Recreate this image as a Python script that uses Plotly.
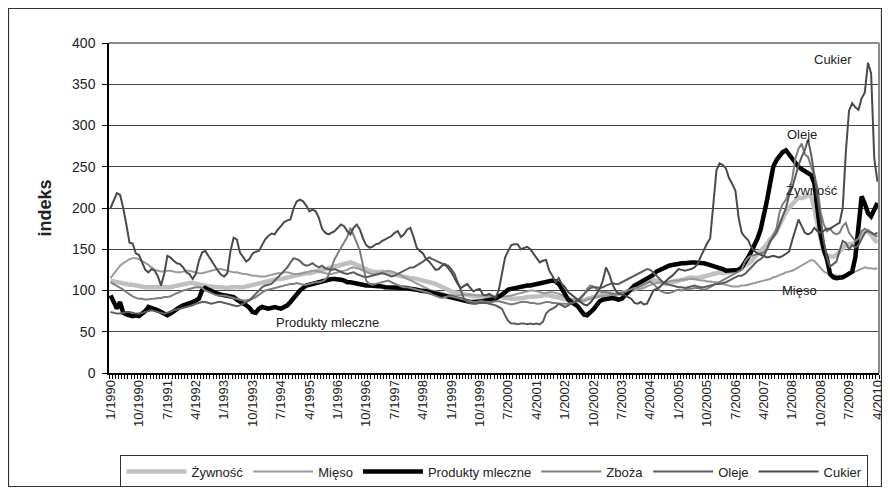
import plotly.graph_objects as go

# monthly categories 1/1990 .. 4/2010
months = [f"{m}/{y}" for y in range(1990, 2011) for m in range(1, 13)][:244]
month_index = list(range(len(months)))

tick_labels = ["1/1990", "10/1990", "7/1991", "4/1992", "1/1993", "10/1993", "7/1994",
               "4/1995", "1/1996", "10/1996", "7/1997", "4/1998", "1/1999", "10/1999",
               "7/2000", "4/2001", "1/2002", "10/2002", "7/2003", "4/2004", "1/2005",
               "10/2005", "7/2006", "4/2007", "1/2008", "10/2008", "7/2009", "4/2010"]

zywnosc = [
    112, 111, 110, 110, 109, 108, 107, 107, 106, 105, 105, 104,
    104, 104, 103, 104, 103, 103, 104, 104, 105, 106, 107, 107,
    108, 109, 109, 108, 108, 107, 106, 105, 105, 104, 104, 104,
    103, 103, 104, 104, 103, 103, 104, 105, 106, 107, 108, 109,
    110, 110, 111, 112, 113, 114, 114, 115, 116, 117, 118, 119,
    120, 120, 121, 121, 122, 122, 123, 124, 125, 126, 127, 128,
    129, 130, 132, 133, 134, 133, 131, 129, 127, 125, 124, 123,
    122, 122, 123, 122, 121, 120, 119, 118, 117, 117, 116, 115,
    115, 114, 114, 113, 112, 111, 110, 108, 106, 104, 102, 100,
    99, 98, 97, 96, 95, 94, 93, 93, 93, 92, 92, 92,
    92, 92, 93, 93, 92, 91, 90, 90, 90, 90, 90, 91,
    92, 92, 93, 93, 93, 94, 95, 94, 93, 92, 91, 91,
    90, 89, 88, 87, 87, 87, 88, 90, 91, 92, 93, 94,
    96, 97, 97, 96, 95, 96, 97, 98, 99, 100, 102, 103,
    105, 108, 110, 112, 113, 112, 110, 109, 108, 109, 110, 111,
    112, 113, 115, 116, 116, 115, 115, 116, 117, 118, 119, 120,
    121, 122, 121, 121, 122, 123, 124, 125, 127, 130, 132, 135,
    140, 145, 148, 152, 156, 162, 166, 172, 180, 188, 195, 200,
    205, 210, 213, 212, 213, 215, 214, 200, 180, 160, 146, 142,
    142, 141, 143, 147, 152, 155, 156, 157, 156, 160, 166, 172,
    172, 168, 162, 158,
]

mieso = [
    115, 120, 125, 130, 133, 136, 138, 139, 139, 138, 136, 134,
    131, 128, 125, 124, 123, 123, 124, 124, 123, 122, 122, 123,
    124, 124, 123, 122, 121, 121, 122, 123, 124, 125, 126, 126,
    125, 124, 123, 122, 122, 121, 120, 120, 119, 118, 118, 117,
    117, 117, 118, 119, 120, 121, 121, 122, 122, 121, 120, 120,
    120, 121, 122, 123, 124, 124, 123, 122, 121, 120, 120, 121,
    122, 123, 124, 125, 127, 128, 127, 126, 124, 122, 121, 120,
    120, 121, 122, 123, 124, 123, 122, 120, 118, 116, 114, 112,
    110, 108, 106, 104, 102, 101, 100, 99, 98, 97, 96, 95,
    95, 94, 94, 94, 95, 95, 95, 95, 94, 94, 94, 94,
    93, 93, 92, 92, 92, 93, 93, 94, 95, 96, 97, 98,
    99, 100, 100, 99, 98, 97, 97, 98, 98, 97, 96, 94,
    92, 91, 90, 89, 88, 88, 88, 89, 90, 91, 92, 93,
    93, 94, 94, 95, 96, 97, 98, 98, 99, 99, 100, 101,
    102, 103, 105, 107, 108, 109, 110, 110, 110, 111, 112, 112,
    112, 113, 113, 114, 114, 114, 113, 112, 112, 111, 111, 110,
    110, 109, 108, 107, 106, 105, 105, 105, 106, 106, 107, 108,
    109, 110, 111, 112, 113, 114, 116, 117, 119, 120, 122, 123,
    124, 126, 128, 130, 132, 134, 137, 136, 132, 127, 123, 121,
    120, 119, 118, 118, 118, 119, 120, 121, 123, 125, 127, 128,
    127, 127, 126, 127,
]

mleczne = [
    94, 86, 78, 86, 73, 71, 70, 69, 70, 69, 72, 75,
    80, 79, 77, 76, 74, 72, 70, 72, 75, 78, 80, 82,
    83, 84, 86, 88, 90, 100, 103, 101, 99, 97, 96, 95,
    94, 93, 93, 92, 89, 87, 85, 82, 79, 74, 73, 78,
    80, 79, 78, 79, 80, 79, 78, 80, 82, 86, 91, 94,
    100, 103, 106, 107, 108, 110, 110, 112, 113, 114, 114, 114,
    114, 113, 112, 110, 110, 109, 109, 108, 107, 106, 106, 106,
    105, 105, 105, 104, 104, 104, 103, 103, 103, 103, 103, 102,
    102, 101, 100, 100, 99, 98, 97, 96, 95, 94, 93, 93,
    92, 91, 90, 89, 88, 87, 86, 86, 86, 87, 87, 88,
    88, 89, 90, 92, 95, 98, 101, 102, 103, 104, 104, 105,
    106, 106, 107, 107, 108, 109, 111, 112, 112, 111, 108, 102,
    94, 89, 86, 84, 81, 76, 71, 70, 73, 77, 82, 87,
    89, 90, 91, 91, 90, 89, 90, 94, 98, 103, 106, 108,
    110, 112, 114, 116, 119, 123, 125, 127, 129, 130, 131, 132,
    132, 133, 133, 134, 134, 134, 134, 134, 133, 132, 131, 130,
    129, 128, 126, 124, 124, 124, 124, 125, 128, 133, 140, 147,
    154, 163, 174, 190, 209, 230, 250, 258, 264, 268, 270, 265,
    258, 254, 250, 247, 245, 243, 240, 230, 196, 168, 150, 138,
    120, 116, 115, 115, 116, 118, 120, 123, 140, 180, 214, 205,
    194, 190, 198, 206,
]

zboza = [
    110, 108, 106, 104, 101, 98, 95, 93, 91, 90, 90, 89,
    89, 90, 90, 91, 91, 92, 92, 93, 95, 97, 99, 100,
    101, 102, 103, 104, 104, 103, 100, 98, 96, 95, 94, 94,
    94, 93, 92, 91, 90, 89, 88, 88, 89, 90, 92, 95,
    98, 100, 101, 102, 103, 104, 105, 106, 107, 108, 108, 109,
    108, 107, 107, 108, 109, 110, 110, 111, 113, 118, 128, 138,
    145, 152, 158, 165, 176, 168, 158, 148, 128, 112, 108, 107,
    108, 109, 110, 111, 112, 110, 108, 106, 105, 104, 104, 103,
    102, 101, 100, 99, 98, 97, 95, 93, 92, 91, 92, 93,
    93, 92, 91, 90, 89, 88, 87, 86, 86, 87, 87, 86,
    86, 86, 87, 87, 86, 85, 84, 83, 84, 85, 86, 86,
    86, 85, 85, 84, 84, 85, 86, 86, 85, 85, 84, 84,
    84, 84, 85, 86, 87, 90, 95, 102, 106, 105, 102, 99,
    98, 98, 97, 96, 95, 96, 97, 98, 100, 102, 103, 104,
    106, 108, 110, 111, 108, 104, 100, 98, 97, 97, 98, 100,
    101, 100, 101, 102, 102, 103, 103, 102, 101, 102, 104, 106,
    108, 110, 112, 114, 116, 118, 120, 122, 125, 135, 140, 142,
    143, 144, 145, 146, 150, 158, 165, 175, 195, 205, 210, 220,
    235, 260, 272, 278, 265, 262, 250, 240, 225, 195, 180, 172,
    175, 170, 168, 170, 178, 182, 170, 165, 160, 163, 172, 175,
    173, 170, 168, 165,
]

oleje = [
    74, 73, 72, 72, 73, 74, 74, 73, 72, 72, 73, 74,
    75, 76, 75, 74, 73, 72, 73, 75, 76, 77, 78, 79,
    80, 81, 82, 84, 85, 86, 86, 85, 84, 85, 86, 86,
    85, 84, 83, 82, 81, 82, 84, 86, 88, 92, 96, 100,
    104, 106, 107, 108, 112, 116, 120, 124, 128, 134, 139, 138,
    136, 132, 130, 131, 133, 130, 128, 130, 127, 126, 125, 126,
    124, 122, 121, 120, 121, 122, 120, 118, 117, 116, 117, 118,
    119, 120, 121, 120, 118, 117, 118, 120, 122, 124, 127, 128,
    128, 130, 132, 135, 138, 140, 138, 136, 134, 132, 131, 130,
    126, 120, 110, 98, 90, 86, 85, 84, 84, 85, 85, 85,
    84, 83, 82, 80, 78, 70, 63, 60, 60, 59, 60, 60,
    59, 60, 59, 60, 59, 62, 72, 76, 78, 80, 84, 82,
    80, 82, 84, 86, 88, 92, 96, 100, 103, 104, 104, 103,
    104, 106, 108, 109, 108, 108, 110, 112, 114, 116, 118, 120,
    122, 124, 126, 125, 122, 118, 114, 110, 108, 107, 106, 105,
    104, 104, 103, 104, 105, 106, 105, 104, 104, 105, 106, 107,
    108, 108, 109, 110, 112, 114, 117, 118, 118, 120, 124, 128,
    132, 136, 138, 142, 150, 160, 165, 170, 180, 190, 200, 215,
    225, 238, 252, 262, 270, 283, 265, 240, 212, 186, 160, 140,
    129, 132, 135, 148, 160, 158, 150, 155, 152, 155, 162, 170,
    172, 170, 168, 170,
]

cukier = [
    200, 210, 218, 216, 200, 180, 158, 157, 145, 143, 135, 125,
    122, 126, 124, 117, 106, 120, 142, 140, 136, 133, 132, 128,
    122, 120, 114, 120, 136, 146, 148, 142, 135, 129, 124, 119,
    117, 121, 148, 164, 162, 146, 140, 135, 138, 145, 147, 148,
    155, 162, 166, 169, 168, 174, 178, 183, 185, 186, 200, 208,
    210, 208, 203, 196, 198, 196, 188, 175, 170, 168, 170, 172,
    176, 180, 178, 172, 168, 176, 180, 174, 163, 155, 152, 153,
    156, 157, 160, 162, 164, 166, 170, 172, 165, 168, 174, 176,
    165, 152, 148, 145, 138, 135, 130, 125, 126, 130, 132, 127,
    122, 115, 108, 103, 105, 108, 103, 99, 101, 102, 95, 94,
    96, 93, 91, 100, 120, 140, 148, 155, 156, 156, 150, 152,
    153, 150, 145, 140, 134, 136, 137, 124, 118, 110, 115, 108,
    104, 98, 95, 92, 88, 85, 83, 82, 85, 90, 96, 102,
    112, 128, 120, 108, 100, 96, 95, 94, 92, 90, 85, 84,
    86, 83, 84, 92, 100, 102, 104, 108, 112, 115, 118, 122,
    126, 125, 124, 125, 126, 128, 132, 141, 150, 157, 163, 201,
    246, 254, 252, 248, 236, 229, 221, 189, 170, 165, 161, 153,
    148, 145, 143, 141, 140, 141, 142, 141, 140, 142, 144, 147,
    161, 175, 186, 178, 170, 168, 170, 176, 172, 170, 172, 175,
    175, 178, 180, 182, 200, 268, 318, 327, 322, 319, 333, 340,
    376, 363, 260, 232,
]

series_names = ["Żywność", "Mięso", "Produkty mleczne", "Zboża", "Oleje", "Cukier"]
series_values = [zywnosc, mieso, mleczne, zboza, oleje, cukier]
series_colors = ["#c0c0c0", "#9a9a9a", "#000000", "#7d7d7d", "#5c5c5c", "#4a4a4a"]
series_widths = [4.5, 2, 4.5, 2, 2, 2]

fig = go.Figure()
for name, vals, col, w in zip(series_names, series_values, series_colors, series_widths):
    fig.add_trace(go.Scatter(x=month_index, y=vals, name=name, mode="lines",
                             line=dict(color=col, width=w)))

tick_positions = [months.index(t) for t in tick_labels]

fig.update_layout(
    template="none",
    width=880, height=479,
    margin=dict(l=101, r=9, t=35, b=114, autoexpand=False),
    paper_bgcolor="white", plot_bgcolor="white",
    font=dict(family="Liberation Sans, Arial, sans-serif", size=13, color="#222222"),
    showlegend=True,
    legend=dict(orientation="h", xref="container", yref="container",
                x=0.5528, xanchor="center", y=0.0324, yanchor="middle",
                bordercolor="#333333", borderwidth=1, bgcolor="white",
                font=dict(size=13), itemwidth=60, tracegroupgap=0),
    xaxis=dict(range=[-0.5, 243.5], tickmode="array", tickvals=tick_positions,
               ticktext=tick_labels, tickangle=-90, ticks="", showgrid=False,
               automargin=False, ticklabeloverflow="allow",
               zeroline=False, showline=True, linecolor="black", linewidth=1.5,
               tickfont=dict(size=13),
               minor=dict(ticks="outside", ticklen=4, tickcolor="black",
                          tick0=-0.5, dtick=1, showgrid=False)),
    yaxis=dict(range=[0, 400], tick0=0, dtick=50, showgrid=True, gridcolor="#444444",
               gridwidth=1, zeroline=False, showline=True, linecolor="black",
               automargin=False, ticklabelstandoff=4,
               linewidth=1.5, ticks="outside", ticklen=5, tickcolor="black",
               tickfont=dict(size=14),
               title=dict(text="<b>indeks</b>", font=dict(size=18), standoff=16)),
    shapes=[
        dict(type="line", xref="paper", yref="paper", x0=0, x1=1, y0=1, y1=1,
             line=dict(color="#8a8a8a", width=2)),
        dict(type="line", xref="paper", yref="paper", x0=1, x1=1, y0=0, y1=1,
             line=dict(color="#8a8a8a", width=2)),
        dict(type="rect", xref="paper", yref="paper", x0=-0.1305, x1=1.0032,
             y0=-0.3439, y1=1.1045, line=dict(color="#333333", width=1.2)),
    ],
    annotations=[
        dict(x=229, y=380, xref="x", yref="y", text="Cukier", showarrow=False,
             font=dict(size=13, color="#222")),
        dict(x=219.2, y=288.7, xref="x", yref="y", text="Oleje", showarrow=False,
             font=dict(size=13, color="#222")),
        dict(x=222.4, y=221.6, xref="x", yref="y", text="Żywność", showarrow=False,
             font=dict(size=13, color="#222")),
        dict(x=218.3, y=99.6, xref="x", yref="y", text="Mięso", showarrow=False,
             font=dict(size=13, color="#222")),
        dict(x=68.8, y=61, xref="x", yref="y", text="Produkty mleczne", showarrow=False,
             font=dict(size=13, color="#222")),
    ],
)

fig.write_html("out.html")
